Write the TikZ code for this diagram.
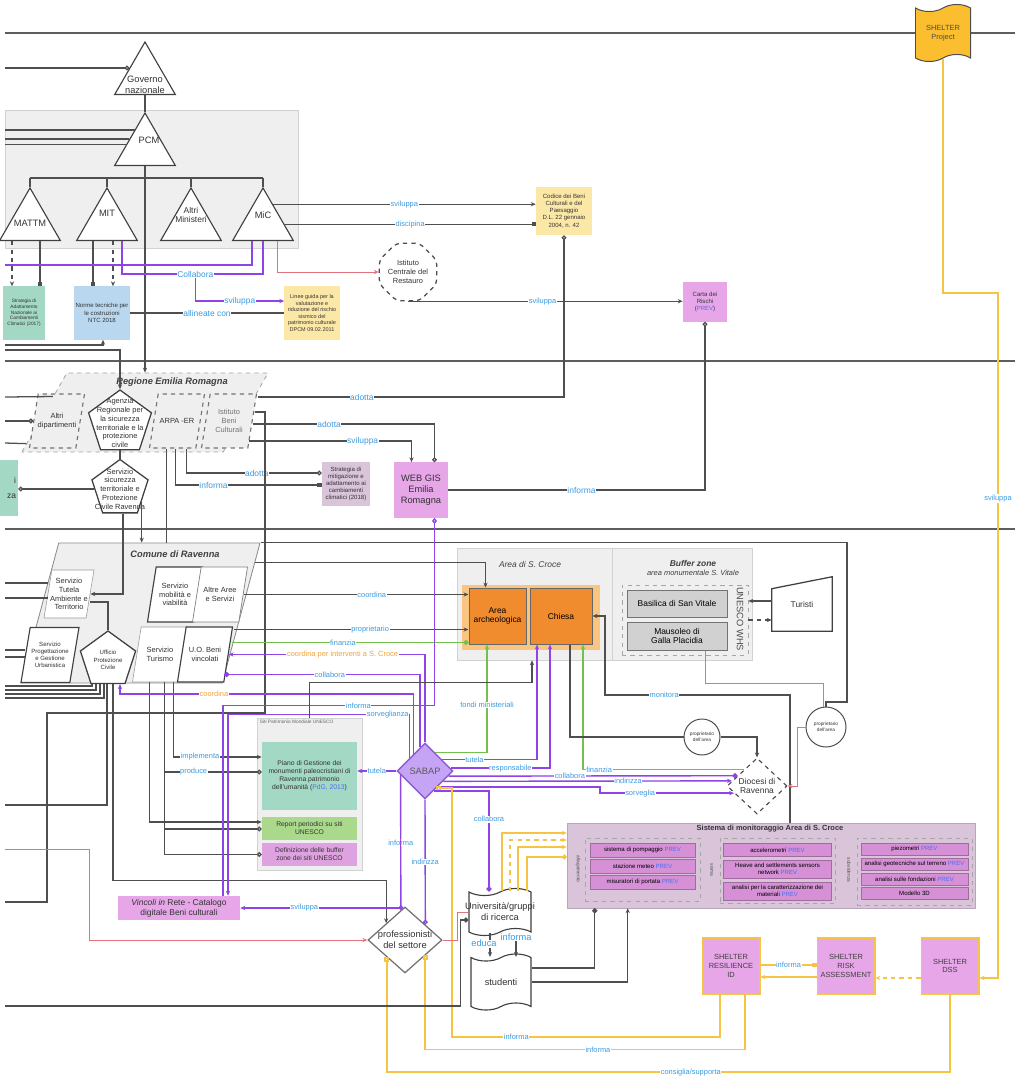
\documentclass[tikz,border=0pt]{standalone}
\usepackage{fontspec}
\setmainfont{Liberation Sans}
\usetikzlibrary{positioning,calc,arrows.meta,shapes.geometric,shapes.symbols}

\definecolor{lanec}{HTML}{5E5E5E}
\definecolor{wirec}{HTML}{4F4F4F}
\definecolor{panelc}{HTML}{EFEFEF}
\definecolor{panelb}{HTML}{D2D2D2}
\definecolor{lblc}{HTML}{3C9BE0}
\definecolor{olblc}{HTML}{F2A33A}
\definecolor{prevc}{HTML}{4D6EF0}
\definecolor{pline}{HTML}{8E44E6}
\definecolor{gline}{HTML}{74C04E}
\definecolor{rline}{HTML}{E0737F}
\definecolor{yline}{HTML}{F5C445}
\definecolor{yellowc}{HTML}{FCE8A6}
\definecolor{tealc}{HTML}{A2D8C4}
\definecolor{bluec}{HTML}{B9D7EF}
\definecolor{mauvec}{HTML}{D9C4DA}
\definecolor{pinkc}{HTML}{E6A6E8}
\definecolor{defc}{HTML}{DFA2E0}
\definecolor{greenc}{HTML}{AAD98C}
\definecolor{orangec}{HTML}{F08C2E}
\definecolor{haloc}{HTML}{F9C580}
\definecolor{sabapc}{HTML}{C6A4F5}
\definecolor{sabapd}{HTML}{8C5BD6}
\definecolor{itemc}{HTML}{D590D6}
\definecolor{flagc}{HTML}{FBBE2E}

\newcommand\szA{\fontsize{3.4}{4}\selectfont}
\newcommand\szAB{\fontsize{3.9}{4.6}\selectfont}
\newcommand\szB{\fontsize{4.3}{5.1}\selectfont}
\newcommand\szBB{\fontsize{4.8}{5.6}\selectfont}
\newcommand\szC{\fontsize{5.3}{6.2}\selectfont}
\newcommand\szCC{\fontsize{6}{7}\selectfont}
\newcommand\szD{\fontsize{6.6}{7.8}\selectfont}
\newcommand\prevtag{\textcolor{prevc}{PREV}}

\begin{document}
\begin{tikzpicture}[x=0.025cm, y=-0.025cm, >={Stealth[length=3.5pt,width=3pt]}]
\tikzset{
  lane/.style={draw=lanec, line width=2pt},
  wire/.style={draw=wirec, line width=0.9pt},
  pwire/.style={draw=pline, line width=1pt},
  gwire/.style={draw=gline, line width=1pt},
  rwire/.style={draw=rline, line width=0.7pt},
  ywire/.style={draw=yline, line width=1.4pt},
  lbl/.style={font=\szC, text=lblc, fill=white, inner sep=0.4pt},
  blbl/.style={lbl, font=\szCC},
  olbl/.style={lbl, text=olblc},
  sq/.style={-{Square[length=3pt,width=3pt]}},
  osq/.style={-{Square[open,length=3.2pt,width=3.2pt]}},
  oc/.style={-{Circle[open,length=3.4pt]}},
  dot/.style={-{Circle[length=3.6pt]}},
  ltxt/.style={align=center, inner sep=0pt, text=black!80},
  panel/.style={rectangle, fill=panelc, draw=panelb, line width=0.4pt, inner sep=0},
  doc/.style={rectangle, font=\szB, align=center, inner sep=0.5pt, text=black!80},
  tri/.style={regular polygon, regular polygon sides=3, draw=black!75, line width=0.8pt, fill=white, minimum size=17.5mm, inner sep=0.5pt},
  penta/.style={regular polygon, regular polygon sides=5, draw=black!75, line width=0.9pt, fill=white, inner sep=0.5pt},
  para/.style={trapezium, trapezium left angle=77, trapezium right angle=103, trapezium stretches=true, fill=white, draw=black!75, line width=0.8pt, inner sep=1pt, minimum width=13.75mm, minimum height=13.75mm},
  dpara/.style={para, dashed, draw=black!55, fill=panelc, minimum height=13.5mm},
  item/.style={rectangle, fill=itemc, draw=itemc!75!black, line width=0.3pt, font=\szB, align=center, inner sep=0.3pt},
  shbox/.style={rectangle, fill=pinkc, draw=yline, line width=1.4pt, font=\szC, align=center, text=black!75, minimum width=14.25mm, minimum height=14mm, inner sep=0},
  grp/.style={rectangle, draw=black!35, dashed, line width=0.4pt, inner sep=0},
  rot/.style={font=\szA, rotate=-90, text=black!70, inner sep=0.5pt},
  bldg/.style={rectangle, fill=black!18, draw=black!55, line width=0.7pt, font=\szCC, align=center, minimum width=25mm, inner sep=0.5pt},
  arch/.style={rectangle, fill=orangec, draw=black!60, line width=0.7pt, font=\szCC, align=center, minimum height=14mm, inner sep=0.5pt},
  circ/.style={circle, draw=black!70, fill=white, line width=0.7pt, inner sep=0.5pt},
  dia/.style={diamond, inner sep=1pt},
  tapeb/.style={tape, draw=black!75, fill=white, line width=0.8pt, inner sep=1pt},
}
\useasboundingbox (0,0) rectangle (1015,1077);

\foreach \yy in {33,361,529} \draw[lane] (5,\yy) -- (1015,\yy);
\foreach \yy in {265,345,350,397,443,583,598,650,657,805,849,902,1006}
  \coordinate (L\yy) at (5,\yy);

\node[panel, minimum width=73.25mm, minimum height=34.5mm] (govpanel) at (151.5,179) {};
\node[tri, label={[ltxt,font=\szD,yshift=-2mm]center:{Governo\\nazionale}}] (gov) at (145,77) {};
\node[tri, label={[ltxt,font=\szD,yshift=2mm,xshift=1mm]center:PCM}] (pcm) at (145,148) {};
\node[tri, label={[ltxt,font=\szD]center:MATTM}] (mattm) at (30,223) {};
\node[tri, label={[ltxt,font=\szD,yshift=2.5mm]center:MIT}] (mit) at (107,223) {};
\node[tri, label={[ltxt,font=\szCC,yshift=2mm]center:{Altri\\Ministeri}}] (altrim) at (191,223) {};
\node[tri, label={[ltxt,font=\szD,yshift=2mm]center:MiC}] (mic) at (263,223) {};

\node[doc, fill=tealc, font=\szA, minimum width=10.5mm, minimum height=13.25mm] (strat17) at (24,313) {Strategia di\\Adattamento\\Nazionale ai\\Cambiamenti\\Climatici (2017)};
\node[doc, fill=bluec, minimum width=13.75mm, minimum height=13.25mm] (norme) at (102,313) {Norme tecniche per\\le costruzioni\\NTC 2018};
\node[doc, fill=yellowc, font=\szAB, minimum width=13.75mm, minimum height=13.25mm] (lineeg) at (312,313) {Linee guida per la\\valutazione e\\riduzione del rischio\\sismico del\\patrimonio culturale\\DPCM 09.02.2011};
\node[doc, fill=yellowc, minimum width=14mm, minimum height=12mm] (codice) at (564,211) {Codice dei Beni\\Culturali e del\\Paesaggio\\D.L.\ 22 gennaio\\2004, n. 42};
\node[regular polygon, regular polygon sides=8, dashed, draw=black!70, line width=0.9pt, rounded corners=3pt, fill=white, minimum size=15.5mm, inner sep=0.5pt, label={[ltxt,font=\szC]center:{Istituto\\Centrale del\\Restauro}}] (icr) at (408,272) {};
\node[doc, fill=pinkc, minimum width=11mm, minimum height=9.75mm] (carta) at (705,302) {Carta dei\\Rischi\\(\prevtag)};

\node[trapezium, trapezium left angle=74, trapezium right angle=106, trapezium stretches=true, minimum width=61.5mm, minimum height=19.75mm, fill=panelc, draw=black!35, dashed, line width=0.6pt] (regione) at (145,412.5) {};
\node[font=\szD\bfseries\itshape, text=black!75] (regtit) at (172,382) {Regione Emilia Romagna};
\node[dpara, label={[ltxt,font=\szC]center:{Altri\\dipartimenti}}] (altrid) at (57,421) {};
\node[dpara, label={[ltxt,font=\szC]center:{ARPA -ER}}] (arpa) at (177,421) {};
\node[dpara, label={[ltxt,font=\szC,text=black!55]center:{Istituto\\Beni\\Culturali}}] (ibc) at (229,421) {};
\node[penta, minimum size=16.5mm, label={[ltxt,font=\szC]center:{Agenzia\\Regionale per\\la sicurezza\\territoriale e la\\protezione\\civile}}] (agenzia) at (120,423) {};
\node[penta, minimum size=14.75mm, label={[ltxt,font=\szC]center:{Servizio\\sicurezza\\territoriale e\\Protezione\\Civile Ravenna}}] (sicur) at (120,489) {};
\node[doc, fill=tealc, font=\szCC, minimum width=9mm, minimum height=13.75mm, text width=8mm, align=right] (psic) at (0,488) {i\\[3pt]za};
\node[doc, fill=pinkc, font=\szD, minimum width=13.25mm, minimum height=13.75mm] (webgis) at (421,490) {WEB GIS\\Emilia\\Romagna};
\node[doc, fill=mauvec, minimum width=12mm, minimum height=10.75mm] (strat18) at (346,484) {Strategia di\\mitigazione e\\adattamento ai\\cambiamenti\\climatici (2018)};

\node[trapezium, trapezium left angle=77, trapezium right angle=103, trapezium stretches=true, minimum width=59.75mm, minimum height=35mm, fill=panelc, draw=black!45, line width=0.6pt] (comune) at (140.5,613) {};
\node[font=\szD\bfseries\itshape, text=black!75] (comtit) at (175,554) {Comune di Ravenna};
\node[para, draw=black!40, line width=0.4pt, minimum width=12.5mm, minimum height=12mm, label={[ltxt,font=\szC]center:{Servizio\\Tutela\\Ambiente e\\Territorio}}] (tutela) at (69,594) {};
\node[para, minimum width=14.5mm, label={[ltxt,font=\szB]center:{Servizio\\Progettazione\\e Gestione\\Urbanistica}}] (progett) at (50,655) {};
\node[penta, minimum size=14.5mm, label={[ltxt,font=\szB]center:{Ufficio\\Protezione\\Civile}}] (upc) at (108,660) {};
\node[para, label={[ltxt,font=\szC]center:{Servizio\\mobilità e\\viabilità}}] (mobil) at (175,594.5) {};
\node[para, draw=black!50, line width=0.5pt, label={[ltxt,font=\szC]center:{Altre Aree\\e Servizi}}] (altrea) at (220,594.5) {};
\node[para, draw=black!40, line width=0.4pt, label={[ltxt,font=\szC]center:{Servizio\\Turismo}}] (turismo) at (160,654.5) {};
\node[para, label={[ltxt,font=\szC]center:{U.O. Beni\\vincolati}}] (uob) at (205,654.5) {};

\node[panel, minimum width=38.75mm, minimum height=28mm] (areasc) at (534.5,604) {};
\node[font=\szCC\itshape, text=black!75] (areatit) at (530,564) {Area di S.\ Croce};
\node[rectangle, fill=haloc, minimum width=34.5mm, minimum height=16.25mm, inner sep=0] (halo) at (531,617.5) {};
\node[arch, minimum width=14.25mm] (areaarch) at (497.5,616) {Area\\archeologica};
\node[arch, minimum width=15.5mm] (chiesa) at (561,616) {Chiesa};

\node[panel, minimum width=35mm, minimum height=28mm] (buffer) at (682,604) {};
\node[font=\szC, align=center, text=black!75] (buftit) at (693,568) {{\szCC\bfseries\itshape Buffer zone}\\\textit{area monumentale S.\ Vitale}};
\node[grp, minimum width=31.5mm, minimum height=17.5mm] (whs) at (685,620) {};
\node[bldg, minimum height=6.75mm] (basilica) at (677,603.5) {Basilica di San Vitale};
\node[bldg, minimum height=7mm] (mausoleo) at (677,636) {Mausoleo di\\Galla Placidia};
\node[rot, font=\szD] (whslbl) at (740,619) {UNESCO WHS};
\node[rectangle, minimum width=15mm, minimum height=13.5mm, inner sep=0, font=\szCC, text=black!80] (turisti) at (802,604) {Turisti};
\draw[black!75, line width=0.9pt] (turisti.south west) -- (turisti.south east) -- (turisti.north east) -- ($(turisti.north west)+(0,12)$) -- cycle;

\node[circ, minimum size=9mm, label={[ltxt,font=\szA]center:{proprietario\\dell'area}}] (propr1) at (702,737) {};
\node[circ, minimum size=10mm, label={[ltxt,font=\szA]center:{proprietario\\dell'area}}] (propr2) at (826,727) {};
\node[dia, dashed, draw=black!70, fill=white, line width=0.8pt, minimum width=15mm, minimum height=14mm, label={[ltxt,font=\szCC]center:{Diocesi di\\Ravenna}}] (diocesi) at (757,786) {};
\node[dia, fill=sabapc, draw=sabapd, line width=1pt, minimum width=14mm, minimum height=14mm, label={[ltxt,font=\szD,text=black!65]center:SABAP}] (sabap) at (425,771) {};
\node[dia, fill=white, draw=black!55, line width=0.9pt, minimum width=18.5mm, minimum height=16.5mm, label={[ltxt,font=\szD]center:{professionisti\\del settore}}] (prof) at (405,940) {};

\node[panel, minimum width=26.25mm, minimum height=38mm] (sito) at (309.5,794) {};
\node[font=\szA, text=black!60, anchor=north west, inner sep=0.5pt] (sitotit) at (259,719) {Siti Patrimonio Mondiale UNESCO};
\node[doc, fill=tealc, font=\szBB, minimum width=23.75mm, minimum height=17mm] (piano) at (309.5,776) {Piano di Gestione dei\\monumenti paleocristiani di\\Ravenna patrimonio\\dell'umanità (\textcolor{prevc}{PdG, 2013})};
\node[doc, fill=greenc, font=\szBB, minimum width=23.75mm, minimum height=5.75mm] (report) at (309.5,828.5) {Report periodici su siti\\UNESCO};
\node[doc, fill=defc, font=\szBB, minimum width=23.75mm, minimum height=5.75mm] (def) at (309.5,854.5) {Definizione delle buffer\\zone dei siti UNESCO};
\node[doc, fill=pinkc, font=\szCC, minimum width=30.5mm, minimum height=6mm] (vincoli) at (179,908) {\textit{Vincoli in} Rete - Catalogo\\digitale Beni culturali};

\node[tapeb, minimum width=15.5mm, minimum height=11.75mm, label={[ltxt,font=\szD]center:{Università/gruppi\\di ricerca}}] (univ) at (500,912) {};
\node[tapeb, minimum width=15mm, minimum height=14mm, label={[ltxt,font=\szD]center:studenti}] (stud) at (501,982) {};

\node[rectangle, fill=mauvec, draw=mauvec!85!black, line width=0.3pt, minimum width=102mm, minimum height=21.25mm, inner sep=0] (sistema) at (771,865.5) {};
\node[font=\szC\bfseries, text=black!80] (sistit) at (770,829) {Sistema di monitoraggio Area di S.\ Croce};
\node[grp, minimum width=28.75mm, minimum height=15.75mm] (g1) at (642.5,869.5) {};
\node[grp, minimum width=28.75mm, minimum height=16.25mm] (g2) at (777.5,870.5) {};
\node[grp, minimum width=28.75mm, minimum height=16.75mm] (g3) at (914.5,871.5) {};
\node[rot] (g1lbl) at (578,869) {allagamento};
\node[rot] (g2lbl) at (712,870) {sisma};
\node[rot] (g3lbl) at (849,870) {subsidenza};
\node[item, minimum width=26.25mm, minimum height=3.5mm] (i11) at (642.5,850) {sistema di pompaggio \prevtag};
\node[item, minimum width=26.25mm, minimum height=3.5mm] (i12) at (642.5,866) {stazione meteo \prevtag};
\node[item, minimum width=26.25mm, minimum height=3.5mm] (i13) at (642.5,882) {misuratori di portata \prevtag};
\node[item, minimum width=27mm, minimum height=3.25mm] (i21) at (777.5,850) {accelerometri \prevtag};
\node[item, minimum width=27mm, minimum height=4.5mm] (i22) at (777.5,869) {Heave and settlements sensors\\network \prevtag};
\node[item, minimum width=27mm, minimum height=4.5mm] (i23) at (777.5,891) {analisi per la caratterizzazione dei\\materiali \prevtag};
\node[item, minimum width=26.75mm, minimum height=3mm] (i31) at (914.5,849) {piezometri \prevtag};
\node[item, minimum width=26.75mm, minimum height=3mm] (i32) at (914.5,864) {analisi geotecniche sul terreno \prevtag};
\node[item, minimum width=26.75mm, minimum height=3mm] (i33) at (914.5,879) {analisi sulle fondazioni \prevtag};
\node[item, minimum width=26.75mm, minimum height=3mm] (i34) at (914.5,893) {Modello 3D};

\node[tape, fill=flagc, draw=black!70, line width=0.7pt, minimum width=13.75mm, minimum height=14.25mm, font=\szC, align=center, text=black!70, inner sep=1pt] (shelterP) at (943,33) {SHELTER\\Project};
\node[shbox] (sres) at (731,966) {SHELTER\\RESILIENCE\\ID};
\node[shbox] (srisk) at (846,966) {SHELTER\\RISK\\ASSESSMENT};
\node[shbox] (sdss) at (950,966) {SHELTER\\DSS};

\draw[wire, line width=1.6pt] (gov.south) -- (pcm.north);
\coordinate (bar) at (0,178);
\draw[wire, line width=1.6pt] (pcm.south) -- (pcm.south |- bar);
\draw[wire, line width=1.4pt] (mattm.north |- bar) -- (mic.north |- bar);
\foreach \m in {mattm,mit,altrim,mic}
  \draw[wire, line width=1.2pt] (\m.north |- bar) -- (\m.north);
\draw[wire,oc] (5,0 |- gov.150) -- (gov.150);
\foreach \a in {120,150,170}
  \draw[wire] (5,0 |- pcm.\a) -- (pcm.\a);
\draw[wire,->] (pcm.south) -- (pcm.south |- regione.north);

\draw[wire,dashed,->] (12,0 |- mattm.south) -- (12,0 |- strat17.north);
\draw[wire,sq] (40,0 |- mattm.south) -- (40,0 |- strat17.north);
\draw[wire,sq] (93,0 |- mit.south) -- (93,0 |- norme.north);
\draw[wire,dashed,->] (113,0 |- mit.south) -- (113,0 |- norme.north);
\draw[pwire] (122,0 |- mit.south) |- node[blbl,pos=0.76] (collab) {Collabora} (263,274) -- (263,0 |- mic.south);
\draw[pwire,->] (collab.south) |- ($(lineeg.west)+(0,-12)$) node[blbl,pos=0.75]{sviluppa};
\draw[pwire] (252,0 |- mic.south) |- (L265);
\draw[wire] (norme.east) -- (lineeg.west) node[blbl,midway]{allineate con};

\draw[wire,->] ($(mic.corner 1)!0.32!(mic.corner 3)$) coordinate (micA) -- (micA -| codice.west) node[lbl,midway]{sviluppa};
\draw[wire,sq] ($(mic.corner 1)!0.69!(mic.corner 3)$) coordinate (micB) -- (micB -| codice.west) node[lbl,midway]{discipina};
\draw[rwire,->] (277,0 |- mic.south) |- (icr.west);
\draw[wire,->] (icr.south) -- (icr.south -| carta.west) node[lbl,pos=0.49]{sviluppa};

\draw[wire,->] (L345) -| (103,0 |- norme.south);
\draw[wire,->] (L350) -| (agenzia.north);
\draw[wire] (L397) -- ($(regione.bottom left corner)!0.7!(regione.top left corner)$);
\draw[wire] (L443) -- ($(regione.bottom left corner)!0.11!(regione.top left corner)$);
\draw[wire,oc] (5,0 |- altrid.west) -- (altrid.west);
\draw[wire] (agenzia.south) -- (sicur.north);
\draw[wire,oc] (sicur.west) -- (sicur.west -| psic.east);
\draw[wire,->] (sicur.-30) -- (sicur.-30 |- comune.north);
\draw[wire,->] ($(sicur.south)+(3,0)$) |- (tutela.east);
\draw[wire] ($(arpa.south)+(-10.5,0)$) coordinate (arpaD) -- (arpaD |- comune.north);
\draw[wire,oc] ($(arpa.south)+(9.5,0)$) |- ($(strat18.west)+(0,-11)$) node[blbl,pos=0.76]{adotta};
\draw[wire,sq] ($(arpa.south)+(-1.5,0)$) |- ($(strat18.west)+(0,1)$) node[blbl,pos=0.63]{informa};
\draw[wire,oc] ($(ibc.east)+(5,-24)$) -| (codice.south) node[blbl,pos=0.17]{adotta};
\draw[wire,oc] ($(ibc.east)+(0,3)$) -| ($(webgis.north)+(13.5,0)$) node[blbl,pos=0.21]{adotta};
\draw[wire,->] ($(ibc.east)+(-4,20)$) -| ($(webgis.north)+(-9.5,0)$) node[blbl,pos=0.35]{sviluppa};
\draw[wire,oc] (webgis.east) -| (carta.south) node[blbl,pos=0.26]{informa};
\draw[wire] ($(ibc.east)+(2,-9)$) -| (265,713) -- (47,713) |- (L902);

\draw[wire] (L583) -- (L583 -| tutela.west);
\draw[wire] (L598) -- (L598 -| tutela.west);
\draw[wire] (L650) -- (L650 -| progett.west);
\draw[wire] (L657) -- (L657 -| progett.west);
\foreach \yy/\xx in {686/-16,690/-12,694/-8,698/-4} {
  \coordinate (Lu\yy) at (5,\yy);
  \draw[wire] (Lu\yy) -| ($(upc.south)+(\xx,0)$);
}
\draw[wire] ($(tutela.east)+(0,8)$) -| (upc.north);
\draw[wire,->] ($(upc.south)+(5,0)$) -- ++(0,196.5) -| (prof.north west);
\draw[wire] ($(upc.south)+(-1,0)$) |- (L805);
\draw[wire,->] ($(turismo.south)+(-10.5,0)$) |- ($(report.west)+(0,-6.5)$);
\draw[wire,oc] ($(turismo.south)+(4.5,0)$) |- ($(report.west)+(0,0.5)$);
\draw[wire,oc] ($(turismo.south)+(4.5,0)$) |- (def.west);
\draw[wire,oc] ($(turismo.south)+(4.5,0)$) |- ($(piano.west)+(0,-4)$) node[lbl,pos=0.65]{produce};
\draw[wire,->] ($(turismo.south)+(13.5,0)$) |- ($(piano.west)+(0,-19)$) node[lbl,pos=0.65]{implementa};

\draw[wire] (comune.top right corner) -| (847,702) -| (propr2.north);
\draw[wire,->] ($(comune.top right corner)!0.14!(comune.bottom right corner)$) -| ($(areaarch.north)+(-12,0)$);
\draw[wire,->] (altrea.east) coordinate (cA) -- (cA -| areaarch.west) node[lbl,pos=0.57]{coordina};
\draw[wire,->] ($(uob.east)+(5.5,-25)$) coordinate (cB) -- (cB -| areaarch.west) node[lbl,pos=0.58]{proprietario};
\draw[gwire,dot] ($(uob.east)+(3,-12)$) coordinate (cC) -- (cC -| areaarch.west) node[lbl,pos=0.47]{finanzia};

\draw[pwire,->] (sabap.north) |- (uob.east) node[olbl,pos=0.71]{coordina per interventi a S.\ Croce};
\draw[pwire,dot] ($(sabap.north)!0.18!(sabap.west)$) |- ($(uob.east)+(-4.5,20)$) node[lbl,pos=0.73]{collabora};
\draw[pwire,->] ($(sabap.north)!0.4!(sabap.west)$) |- node[olbl,pos=0.84]{coordina} ($(upc.south)+(12,10)$) -- ($(upc.south)+(12,0)$);
\draw[pwire,{Diamond[open,length=4.5pt,width=3.5pt]}-] ($(webgis.south)+(13.5,0)$) -- ++(0,188) -| ($(vincoli.north)+(44,0)$) node[lbl,pos=0.18]{informa};
\draw[pwire,->] ($(sabap.north)!0.54!(sabap.west)$) |- node[lbl,pos=0.56]{sorveglianza} ($(vincoli.north)+(49,-181)$) -- ($(vincoli.north)+(49,0)$);

\draw[gwire,->] ($(sabap.north)!0.36!(sabap.east)$) -| ($(areaarch.south)+(-10.5,0)$) node[lbl,pos=0.72]{fondi ministeriali};
\draw[pwire,->] ($(sabap.north)!0.6!(sabap.east)$) -| ($(chiesa.south)+(-24,0)$) node[lbl,pos=0.17]{tutela};
\draw[pwire,->] ($(sabap.north)!0.9!(sabap.east)$) -| ($(chiesa.south)+(-11,0)$) node[lbl,pos=0.3]{responsabile};
\draw[gwire,->] ($(diocesi.north)!0.43!(diocesi.west)$) -| ($(chiesa.south)+(22,0)$) node[lbl,pos=0.45]{finanzia};
\draw[pwire,dot] ($(sabap.east)!0.18!(sabap.south)$) -- ($(diocesi.north)!0.64!(diocesi.west)$) node[lbl,pos=0.42]{collabora};
\draw[pwire,->] ($(sabap.east)!0.36!(sabap.south)$) -- ($(diocesi.north)!0.82!(diocesi.west)$) node[lbl,pos=0.64]{indirizza};
\draw[pwire,->] ($(sabap.east)!0.55!(sabap.south)$) -- ++(162,0) |- ($(diocesi.west)!0.25!(diocesi.south)$) node[lbl,pos=0.65]{sorveglia};

\draw[pwire,->] (sabap.west) -- (sabap.west -| piano.east) node[lbl,midway]{tutela};
\draw[pwire,oc] ($(sabap.west)!0.15!(sabap.south)$) -- ($(prof.north)!0.11!(prof.west)$) node[lbl,midway]{informa};
\draw[pwire,->] ($(sabap.west)!0.15!(sabap.south)$) |- (vincoli.east) node[lbl,pos=0.8]{sviluppa};
\draw[pwire,oc] (sabap.south) -- ($(prof.north)!0.54!(prof.east)$) node[lbl,midway]{indirizza};
\draw[pwire,dot] ($(sabap.east)!0.7!(sabap.south)$) -| ($(univ.north)+(-11,0)$) node[lbl,pos=0.64]{collabora};

\draw[ywire,->] (shelterP.south) |- (998,293) -- (998,978) node[lbl,pos=0.3]{sviluppa} -- ($(sdss.east)+(0,12)$);
\draw[ywire,osq] ($(sres.east)+(0,-1)$) -- ($(srisk.west)+(0,-1)$) node[lbl,midway]{informa};
\draw[ywire,->] ($(srisk.west)+(0,11)$) -- ($(sres.east)+(0,11)$);
\draw[ywire,dashed,->] ($(sdss.west)+(0,12)$) -- ($(srisk.east)+(0,12)$);
\draw[ywire,osq] ($(sres.south)+(-11,0)$) |- node[lbl,pos=0.88]{informa} (452,1037) |- ($(sabap.east)!0.6!(sabap.south)$);
\draw[ywire,osq] ($(sres.south)+(14,0)$) |- node[lbl,pos=0.73]{informa} ($(prof.south)!0.54!(prof.east)+(0,94)$) -- ($(prof.south)!0.54!(prof.east)$);
\draw[ywire,osq] (sdss.south) |- node[lbl,pos=0.73]{consiglia/supporta} ($(prof.south)!0.49!(prof.west)+(0,115)$) -- ($(prof.south)!0.49!(prof.west)$);
\draw[ywire,->] ($(univ.north)+(2,0)$) |- ($(sistema.west)+(0,-32.5)$);
\draw[ywire,dashed,->] ($(univ.north)+(10,0)$) |- ($(sistema.west)+(0,-25.5)$);
\draw[ywire,->] ($(univ.north)+(18,0)$) |- ($(sistema.west)+(0,-18.5)$);
\draw[ywire,oc] ($(univ.north)+(27,0)$) |- ($(sistema.west)+(0,-8.5)$);

\draw[rwire,->] (L849) -| ($(prof.west)+(-278,0)$) -- (prof.west);
\draw[rwire] (prof.east) -- ++(15,0) |- (univ.west);
\draw[wire,dot] (L1006) -| ($(univ.west)+(-8,8)$) -- ($(univ.west)+(0,8)$);
\draw[wire,->] ($(univ.south)+(-10,0)$) -- ($(stud.north)+(-11,0)$) node[lbl,font=\szD,pos=0.45,xshift=-1.5mm]{educa};
\draw[wire,->] ($(univ.south)+(16,0)$) -- ($(stud.north)+(15,0)$) node[lbl,font=\szD,pos=0.2]{informa};
\draw[wire,dot] ($(stud.east)+(0,-14)$) -| ($(sistema.south west)+(28,0)$);
\draw[wire,->] (stud.east) -| ($(sistema.south west)+(61,0)$);

\draw[wire,->] ($(sistema.north)+(19,0)$) |- (605,695) node[lbl,pos=0.84]{monitora} |- (chiesa.east);
\draw[wire] ($(chiesa.south)+(9,0)$) |- (propr1.west);
\draw[wire,->] (propr1.east) -| (diocesi.north);
\draw[rwire] ($(mausoleo.south)+(28,0)$) -- ++(0,33) -| ($(propr2.north)+(-3,0)$);
\draw[rwire,->] (propr2.west) -- ++(-8,0) |- (diocesi.east);
\draw[wire,->] (sito.north) -- ++(0,-35) -| ($(areasc.south)+(-2.5,0)$);
\draw[wire,->] ($(turisti.west)+(0,-3)$) coordinate (tA) -- (tA -| whs.east);
\draw[wire,dashed,->] (whs.east) -- (whs.east -| turisti.west);
\end{tikzpicture}
\end{document}
